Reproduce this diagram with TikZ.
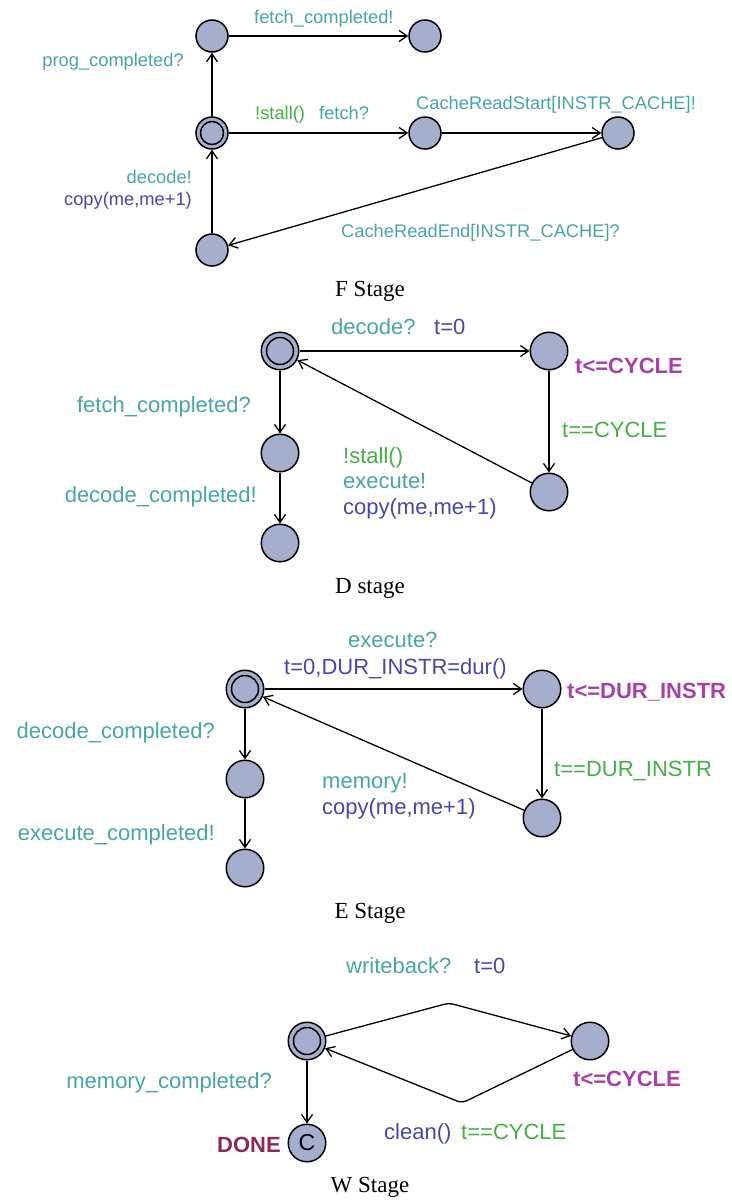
\documentclass[tikz,border=0pt]{standalone}
\usepackage{fontspec}
\setmainfont{Liberation Serif}
\setsansfont{Liberation Sans}
\usetikzlibrary{arrows.meta}

\definecolor{cLoc}{RGB}{166,174,206}
\definecolor{cSync}{RGB}{70,166,166}
\definecolor{cUpd}{RGB}{70,70,178}
\definecolor{cGrd}{RGB}{66,176,66}
\definecolor{cInv}{RGB}{168,64,168}
\definecolor{cName}{RGB}{140,40,90}

\begin{document}
\begin{tikzpicture}
[
    x=1pt, y=-1pt,
    % Locations are named S-n, S being the stage letter (F, D, E, W)
    % Labels are named S-l-n, captions S-cap
    >={Straight Barb[length=8pt, width=11pt]}
]
\useasboundingbox (0,0) rectangle (731,1202);

%=================================== Start ===================================
\tikzstyle{loc}   = [circle, draw, line width=1.5pt, fill=cLoc, inner sep=0pt, minimum size=37.5pt]
\tikzstyle{small} = [minimum size=32pt]
\tikzstyle{init}  = [path picture={
    \draw[line width=1.5pt] (path picture bounding box.center) circle[radius=#1];
}]
\tikzstyle{tr}    = [->, line width=1.3pt]
\tikzstyle{lbl}   = [inner sep=0pt, font=\sffamily\fontsize{22}{26}\selectfont]
\tikzstyle{lblF}  = [inner sep=0pt, font=\sffamily\fontsize{18.3}{22}\selectfont]
\tikzstyle{stagecap} = [inner sep=0pt, anchor=base, font=\rmfamily\fontsize{23}{27}\selectfont]

{
    % ----- F Stage -----
    \node[loc, small, init=11.5pt] (F-0) at (212,133) {};
    \foreach \n / \x / \y in {1/212/36, 2/425/36, 3/425/133, 4/618/133, 5/212/250}
        \node[loc, small] (F-\n) at (\x,\y) {};
    \foreach \a / \b in {0/1, 1/2, 0/3, 3/4, 4/5, 5/0}
        \path (F-\a) edge[tr] (F-\b);

    \node[lblF, text=cSync, anchor=base east] (F-l-0) at (184,66) {prog\_completed?};
    \node[lblF, text=cSync, anchor=base west] (F-l-1) at (254,23) {fetch\_completed!};
    \node[lblF, text=cGrd,  anchor=base west] (F-l-2) at (255,119) {!stall()};
    \node[lblF, text=cSync, anchor=base west] (F-l-3) at (319,119) {fetch?};
    \node[lblF, text=cSync, anchor=base west] (F-l-4) at (416,109) {CacheReadStart[INSTR\_CACHE]!};
    \node[lblF, text=cSync, anchor=base west] (F-l-5) at (341,237) {CacheReadEnd[INSTR\_CACHE]?};
    \node[lblF, text=cSync, anchor=base east] (F-l-6) at (192,183) {decode!};
    \node[lblF, text=cUpd,  anchor=base east] (F-l-7) at (192,205) {copy(me,me+1)};
    \node[stagecap] (F-cap) at (370,296) {F Stage};

    % ----- D stage -----
    \node[loc, init=13.5pt] (D-0) at (280,351) {};
    \foreach \n / \x / \y in {1/549/351, 2/549/492, 3/280/453, 4/280/543}
        \node[loc] (D-\n) at (\x,\y) {};
    \foreach \a / \b in {0/1, 1/2, 2/0, 0/3, 3/4}
        \path (D-\a) edge[tr] (D-\b);

    \node[lbl, text=cSync, anchor=base west] (D-l-0) at (331,334) {decode?};
    \node[lbl, text=cUpd,  anchor=base west] (D-l-1) at (434,334) {t=0};
    \node[lbl, text=cInv,  anchor=base west, font=\sffamily\bfseries\fontsize{22}{26}\selectfont]
        (D-l-2) at (575,373) {t<=CYCLE};
    \node[lbl, text=cGrd,  anchor=base west] (D-l-3) at (562,437) {t==CYCLE};
    \node[lbl, text=cSync, anchor=base east] (D-l-4) at (251,412) {fetch\_completed?};
    \node[lbl, text=cSync, anchor=base east] (D-l-5) at (257,502) {decode\_completed!};
    \node[lbl, text=cGrd,  anchor=base west] (D-l-6) at (343,463) {!stall()};
    \node[lbl, text=cSync, anchor=base west] (D-l-7) at (343,488) {execute!};
    \node[lbl, text=cUpd,  anchor=base west] (D-l-8) at (343,514) {copy(me,me+1)};
    \node[stagecap] (D-cap) at (370,593) {D stage};

    % ----- E Stage -----
    \node[loc, init=13.5pt] (E-0) at (245,689) {};
    \foreach \n / \x / \y in {1/542/689, 2/542/818, 3/245/779, 4/245/868}
        \node[loc] (E-\n) at (\x,\y) {};
    \foreach \a / \b in {0/1, 1/2, 2/0, 0/3, 3/4}
        \path (E-\a) edge[tr] (E-\b);

    \node[lbl, text=cSync, anchor=base west] (E-l-0) at (348,647) {execute?};
    \node[lbl, text=cUpd,  anchor=base west] (E-l-1) at (284,674) {t=0,DUR\_INSTR=dur()};
    \node[lbl, text=cInv,  anchor=base west, font=\sffamily\bfseries\fontsize{22}{26}\selectfont]
        (E-l-2) at (567,698) {t<=DUR\_INSTR};
    \node[lbl, text=cGrd,  anchor=base west] (E-l-3) at (554,776) {t==DUR\_INSTR};
    \node[lbl, text=cSync, anchor=base west] (E-l-4) at (322,788) {memory!};
    \node[lbl, text=cUpd,  anchor=base west] (E-l-5) at (322,814) {copy(me,me+1)};
    \node[lbl, text=cSync, anchor=base east] (E-l-6) at (215,738) {decode\_completed?};
    \node[lbl, text=cSync, anchor=base east] (E-l-7) at (215,840) {execute\_completed!};
    \node[stagecap] (E-cap) at (370,918) {E Stage};

    % ----- W Stage -----
    \node[loc, init=13.5pt] (W-0) at (307,1041) {};
    \node[loc] (W-1) at (590,1041) {};
    \node[loc, font=\sffamily\fontsize{23}{26}\selectfont] (W-2) at (307,1143) {C};
    % nails of the two bent edges
    \coordinate (W-n-0) at (449,1003);
    \coordinate (W-n-1) at (462,1103);
    \draw[tr, rounded corners=5pt] (W-0) -- (W-n-0) -- (W-1);
    \draw[tr, rounded corners=5pt] (W-1) -- (W-n-1) -- (W-0);
    \path (W-0) edge[tr] (W-2);

    \node[lbl, text=cSync, anchor=base west] (W-l-0) at (346,973) {writeback?};
    \node[lbl, text=cUpd,  anchor=base west] (W-l-1) at (474,973) {t=0};
    \node[lbl, text=cInv,  anchor=base west, font=\sffamily\bfseries\fontsize{22}{26}\selectfont]
        (W-l-2) at (573,1086) {t<=CYCLE};
    \node[lbl, text=cUpd,  anchor=base west] (W-l-3) at (384,1139) {clean()};
    \node[lbl, text=cGrd,  anchor=base west] (W-l-4) at (461,1139) {t==CYCLE};
    \node[lbl, text=cSync, anchor=base east] (W-l-5) at (272,1088) {memory\_completed?};
    \node[lbl, text=cName, anchor=base east, font=\sffamily\bfseries\fontsize{22}{26}\selectfont]
        (W-l-6) at (281,1152) {DONE};
    \node[stagecap] (W-cap) at (370,1192) {W Stage};
}
%==================================== END ====================================

\end{tikzpicture}
\end{document}
